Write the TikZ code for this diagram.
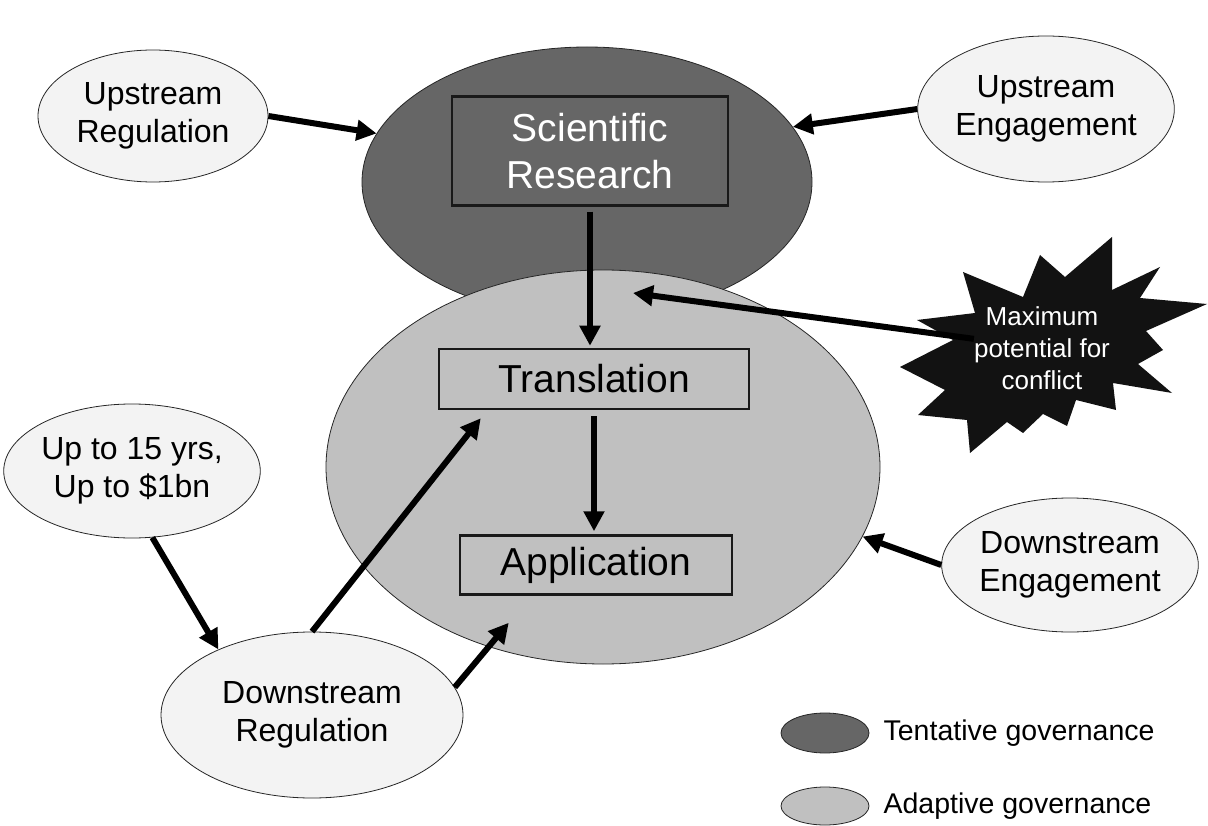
\documentclass[tikz,border=0pt]{standalone}
\usepackage{fontspec}
\setmainfont{Liberation Sans}
\usepackage{tikz}
\usetikzlibrary{arrows.meta,positioning,shapes.geometric}
\definecolor{tentgray}{HTML}{666666}
\definecolor{adaptgray}{HTML}{C0C0C0}
\definecolor{bubblegray}{HTML}{F3F3F3}

\begin{document}
\begin{tikzpicture}[x=1pt, y=-1pt, every node/.style={align=center, inner sep=0pt},
    govern/.style={ellipse, draw=black!85, line width=0.8pt},
    bubble/.style={ellipse, draw=black!85, line width=0.8pt, fill=bubblegray, font=\fontsize{32}{38}\selectfont},
    stage/.style={rectangle, draw=black!90, line width=2.5pt, font=\fontsize{39}{47}\selectfont},
    link/.style={line width=6pt, -{Triangle[length=20pt,width=20pt]}}]
    \useasboundingbox (0,0) rectangle (1208,826);

    \node[govern, fill=tentgray, minimum width=450pt, minimum height=270pt] (tent) at (587,182) {};
    \node[govern, fill=adaptgray, minimum width=554pt, minimum height=394pt] (adapt) at (603,467) {};

    \node[stage, fill=tentgray, text=white, minimum width=276pt, minimum height=109pt] (sci) at (590,151) {Scientific\\Research};
    \node[stage, minimum width=310pt, minimum height=60pt] (trans) at (594,379) {Translation};
    \node[stage, minimum width=272pt, minimum height=59pt] (app) at (596,565) {Application};

    \node[bubble, minimum width=230pt, minimum height=132pt] (upreg) at (153,116) {Upstream\\Regulation};
    \node[bubble, minimum width=238pt, minimum height=146pt] (upeng) at (1046,109) {Upstream\\Engagement};
    \node[bubble, minimum width=244pt, minimum height=134pt] (upto) at (132,471) {Up to 15 yrs,\\Up to \$1bn};
    \node[bubble, minimum width=240pt, minimum height=134pt] (downeng) at (1070,565) {Downstream\\Engagement};
    \node[bubble, minimum width=302pt, minimum height=166pt] (downreg) at (312,715) {Downstream\\Regulation};

    \fill[black!93] (1112,237) -- (1112,290) -- (1160,267) -- (1140,298) -- (1207,304) -- (1146,331)
        -- (1163,350) -- (1138,364) -- (1172,393) -- (1113,383) -- (1116,410) -- (1076,400)
        -- (1067,426) -- (1043,414) -- (1023,433) -- (1007,422) -- (970,453) -- (967,420)
        -- (918,415) -- (945,390) -- (900,367) -- (953,340) -- (917,320) -- (975,313)
        -- (963,272) -- (1023,297) -- (1040,255) -- (1065,277) -- cycle;
    \node[text=white, font=\fontsize{26}{32}\selectfont] (conflict) at (1042,348) {Maximum\\potential for\\conflict};
    \coordinate (clash) at (633,293);

    \draw[link] (upreg.east) -- (tent.167);
    \draw[link] (upeng.west) -- (tent.15);
    \draw[link, shorten <=5pt, shorten >=2pt] (sci.south) -- (sci.south |- trans.north);
    \draw[link] (conflict) -- (clash);
    \draw[link, shorten <=6pt, shorten >=3pt] (trans.south) -- (trans.south |- app.north);
    \draw[link] (downeng.west) -- (adapt.345);
    \draw[link] (upto.287) -- (downreg.145);
    \draw[link] (downreg.north) -- ([xshift=43pt,yshift=-8pt]trans.south west);
    \draw[link] (downreg.11) -- ([xshift=50pt,yshift=-27pt]app.south west);

    \node[govern, fill=tentgray, minimum width=88pt, minimum height=40pt] (legtent) at (825,733) {};
    \node[right=14pt of legtent, font=\fontsize{28.5}{34}\selectfont] (legtent-text) {Tentative governance};
    \node[govern, fill=adaptgray, minimum width=88pt, minimum height=38pt] (legadapt) at (825,806) {};
    \node[right=14pt of legadapt, font=\fontsize{28.5}{34}\selectfont] (legadapt-text) {Adaptive governance};
\end{tikzpicture}
\end{document}
